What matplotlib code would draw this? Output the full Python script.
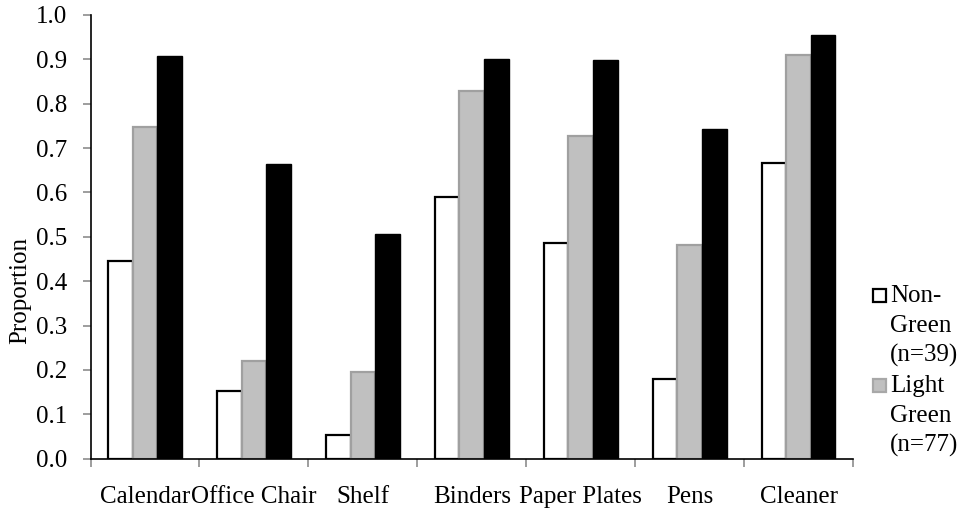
import matplotlib
matplotlib.use("Agg")
import matplotlib.pyplot as plt
from matplotlib.patches import Rectangle
import numpy as np

categories = ["Calendar", "Office Chair", "Shelf", "Binders", "Paper Plates", "Pens", "Cleaner"]
non_green = [0.446, 0.153, 0.053, 0.590, 0.487, 0.179, 0.667]
light_green = [0.747, 0.221, 0.196, 0.829, 0.727, 0.482, 0.909]
dark_green = [0.907, 0.664, 0.506, 0.900, 0.899, 0.742, 0.955]
legend_labels = ["Non-\nGreen\n(n=39)", "Light\nGreen\n(n=77)"]
y_ticks = [0.0, 0.1, 0.2, 0.3, 0.4, 0.5, 0.6, 0.7, 0.8, 0.9, 1.0]

plt.rcParams['font.family'] = ['Liberation Serif', 'DejaVu Serif']
FS = 18
W, H = 964, 516

fig = plt.figure(figsize=(W / 100, H / 100), dpi=100)
L, R, T, B = 90.5, 853.0, 15.0, 458.7
ax = fig.add_axes([L / W, 1 - B / H, (R - L) / W, (B - T) / H])

x = np.arange(len(categories))
w = 0.226
ax.bar(x - w, non_green, w, color="white", edgecolor="black", linewidth=1.6)
ax.bar(x, light_green, w, color="#c0c0c0", edgecolor="#a0a0a0", linewidth=1.6)
ax.bar(x + w, dark_green, w, color="black", edgecolor="black", linewidth=1.0)

ax.set_xlim(-0.5, len(categories) - 0.5)
ax.set_ylim(0, 1.0)
ax.set_yticks(y_ticks)
ax.set_yticklabels([f"{v:.1f}" for v in y_ticks], fontsize=FS)
ax.tick_params(axis="y", length=6, width=1.2, color="#8c8c8c", pad=11)

ax.set_xticks(np.arange(len(categories) + 1) - 0.5)
ax.set_xticklabels([])
ax.set_xticks(x, minor=True)
ax.set_xticklabels(categories, minor=True, fontsize=FS)
ax.tick_params(axis="x", which="major", length=6, width=1.2, color="#8c8c8c")
ax.tick_params(axis="x", which="minor", length=0, pad=20)

for s in ["top", "right"]:
    ax.spines[s].set_visible(False)
for s in ["left", "bottom"]:
    ax.spines[s].set_linewidth(1.2)
    ax.spines[s].set_color("black")

fig.text(20 / W, 1 - 290 / H, "Proportion", rotation=90, ha="center", va="center", fontsize=FS)

# legend (third entry is clipped in the original)
styles = [dict(facecolor="white", edgecolor="black"), dict(facecolor="#c0c0c0", edgecolor="#a8a8a8")]
baseline0 = 301.7
line_h = 30.0
k = 0
for lab, st in zip(legend_labels, styles):
    lines = lab.split("\n")
    by = baseline0 + k * line_h
    fig.patches.append(Rectangle((872.5 / W, 1 - (by + 0.5) / H), 13.5 / W, 13.5 / H,
                                 transform=fig.transFigure, linewidth=1.6, **st))
    for ln in lines:
        fig.text(890 / W, 1 - (baseline0 + k * line_h) / H, ln, ha="left", va="baseline", fontsize=FS)
        k += 1

fig.savefig("out.png", dpi=100)
